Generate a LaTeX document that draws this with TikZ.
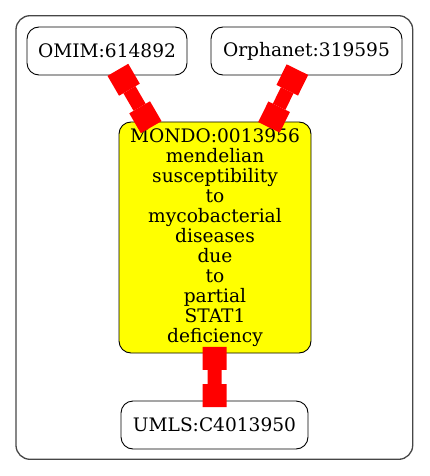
\documentclass[tikz,border=0pt]{standalone}
\usepackage{fontspec}
\usepackage{xcolor}
\setmainfont{DejaVu Serif}
\usetikzlibrary{arrows.meta}
\definecolor{clustergray}{RGB}{70,70,70}
\definecolor{mondoyellow}{RGB}{255,255,0}
\definecolor{xrefred}{RGB}{255,0,0}

\tikzset{
  term/.style={draw, rounded corners=12pt, line width=0.9pt, minimum height=48pt,
    inner sep=0pt, align=center, font=\fontsize{18.6}{20}\selectfont},
  xref/.style={xrefred, line width=14pt,
    {Square[length=23pt,width=24pt,line width=0pt]}-{Square[length=23pt,width=24pt,line width=0pt]},
    shorten <=-6.5pt, shorten >=-6.5pt},
}

\begin{document}
\begin{tikzpicture}[x=1pt,y=-1pt]
  \useasboundingbox (0,0) rectangle (429,476);
  \node[draw=clustergray, line width=1.3pt, rounded corners=14pt, minimum width=396.7pt,
    minimum height=443.6pt, inner sep=0pt] (cluster) at (214.35,237.5) {};
  \node[term, minimum width=160pt] (omim) at (107,51) {OMIM:614892};
  \node[term, minimum width=191pt] (orphanet) at (306.5,51) {Orphanet:319595};
  \node[term, fill=mondoyellow, minimum width=192pt, minimum height=231pt] (mondo) at (215,237.5)
    {MONDO:0013956\\mendelian\\susceptibility\\to\\mycobacterial\\diseases\\due\\to\\partial\\STAT1\\deficiency};
  \node[term, minimum width=187pt] (umls) at (214.5,425) {UMLS:C4013950};
  \draw[xref] (mondo) -- (omim);
  \draw[xref] (mondo) -- (orphanet);
  \draw[xref] (mondo) -- (umls);
\end{tikzpicture}
\end{document}
